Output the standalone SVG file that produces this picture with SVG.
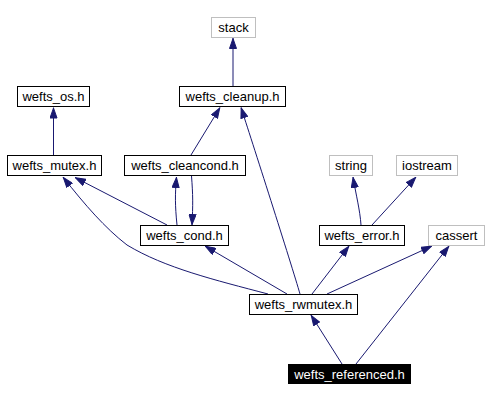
<svg xmlns="http://www.w3.org/2000/svg" width="489" height="401" viewBox="0 0 489 401">
<style>
.n rect{fill:#fff;stroke:#000;stroke-width:1}
.g rect{fill:#fff;stroke:#bfbfbf;stroke-width:1}
text{font-family:"Liberation Sans",Arial,sans-serif;font-size:13px;text-anchor:middle;fill:#000}
.r rect{fill:#000;stroke:#000}
.r text{fill:#fff}
#edges path{fill:none;stroke:#191970;stroke-width:1;marker-end:url(#ah)}
</style>
<defs>
<marker id="ah" viewBox="0 0 11 8" refX="11" refY="4" markerWidth="11" markerHeight="8" markerUnits="userSpaceOnUse" orient="auto">
<path d="M0.5,0.5 L10.5,4 L0.5,7.5 z" fill="#191970" stroke="#191970" stroke-width="1"/>
</marker>
</defs>
<rect width="489" height="401" fill="#fff"/>
<g id="edges">
<path d="M233,86 L233,38"/>
<path d="M53.5,155 L53.5,107.5"/>
<path d="M191,155 L220,107.5"/>
<path d="M300,294 C292,266 250,135 241,107.5"/>
<path d="M167,225 L75,177.5"/>
<path d="M177,225 C175,205 175,195 176.5,177"/>
<path d="M191.5,176 C193,195 193,205 192,225"/>
<path d="M268,294 C215,280 165,268 127,245 C105,228 85,205 63,177"/>
<path d="M287,294 L205,246"/>
<path d="M312,294 L349,246"/>
<path d="M327,294 L432,246"/>
<path d="M342,364 L311,315"/>
<path d="M356,364 L449,246"/>
<path d="M361,225 C360,210 356,195 353,177"/>
<path d="M372,225 L416,177"/>
</g>
<g id="stack" class="g"><rect x="211.5" y="17.5" width="44" height="20"/><text x="233.5" y="32">stack</text></g>
<g id="wefts_cleanup" class="n"><rect x="179.5" y="86.5" width="106" height="20"/><text x="232.5" y="101">wefts_cleanup.h</text></g>
<g id="wefts_os" class="n"><rect x="17.5" y="86.5" width="72" height="20"/><text x="53.5" y="101">wefts_os.h</text></g>
<g id="wefts_mutex" class="n"><rect x="7.5" y="155.5" width="94" height="20"/><text x="54.5" y="170">wefts_mutex.h</text></g>
<g id="wefts_cleancond" class="n"><rect x="124.5" y="155.5" width="121" height="20"/><text x="185" y="170">wefts_cleancond.h</text></g>
<g id="string" class="g"><rect x="329.5" y="155.5" width="43" height="20"/><text x="351" y="170">string</text></g>
<g id="iostream" class="g"><rect x="396.5" y="155.5" width="61" height="20"/><text x="427" y="170">iostream</text></g>
<g id="wefts_cond" class="n"><rect x="140.5" y="225.5" width="88" height="20"/><text x="184.5" y="240">wefts_cond.h</text></g>
<g id="wefts_error" class="n"><rect x="319.5" y="225.5" width="85" height="20"/><text x="362" y="240">wefts_error.h</text></g>
<g id="cassert" class="g"><rect x="428.5" y="225.5" width="56" height="20"/><text x="456.5" y="240">cassert</text></g>
<g id="wefts_rwmutex" class="n"><rect x="249.5" y="294.5" width="108" height="20"/><text x="303.5" y="309">wefts_rwmutex.h</text></g>
<g id="wefts_referenced" class="r"><rect x="288.5" y="364.5" width="122" height="19"/><text x="349.5" y="379">wefts_referenced.h</text></g>
</svg>
